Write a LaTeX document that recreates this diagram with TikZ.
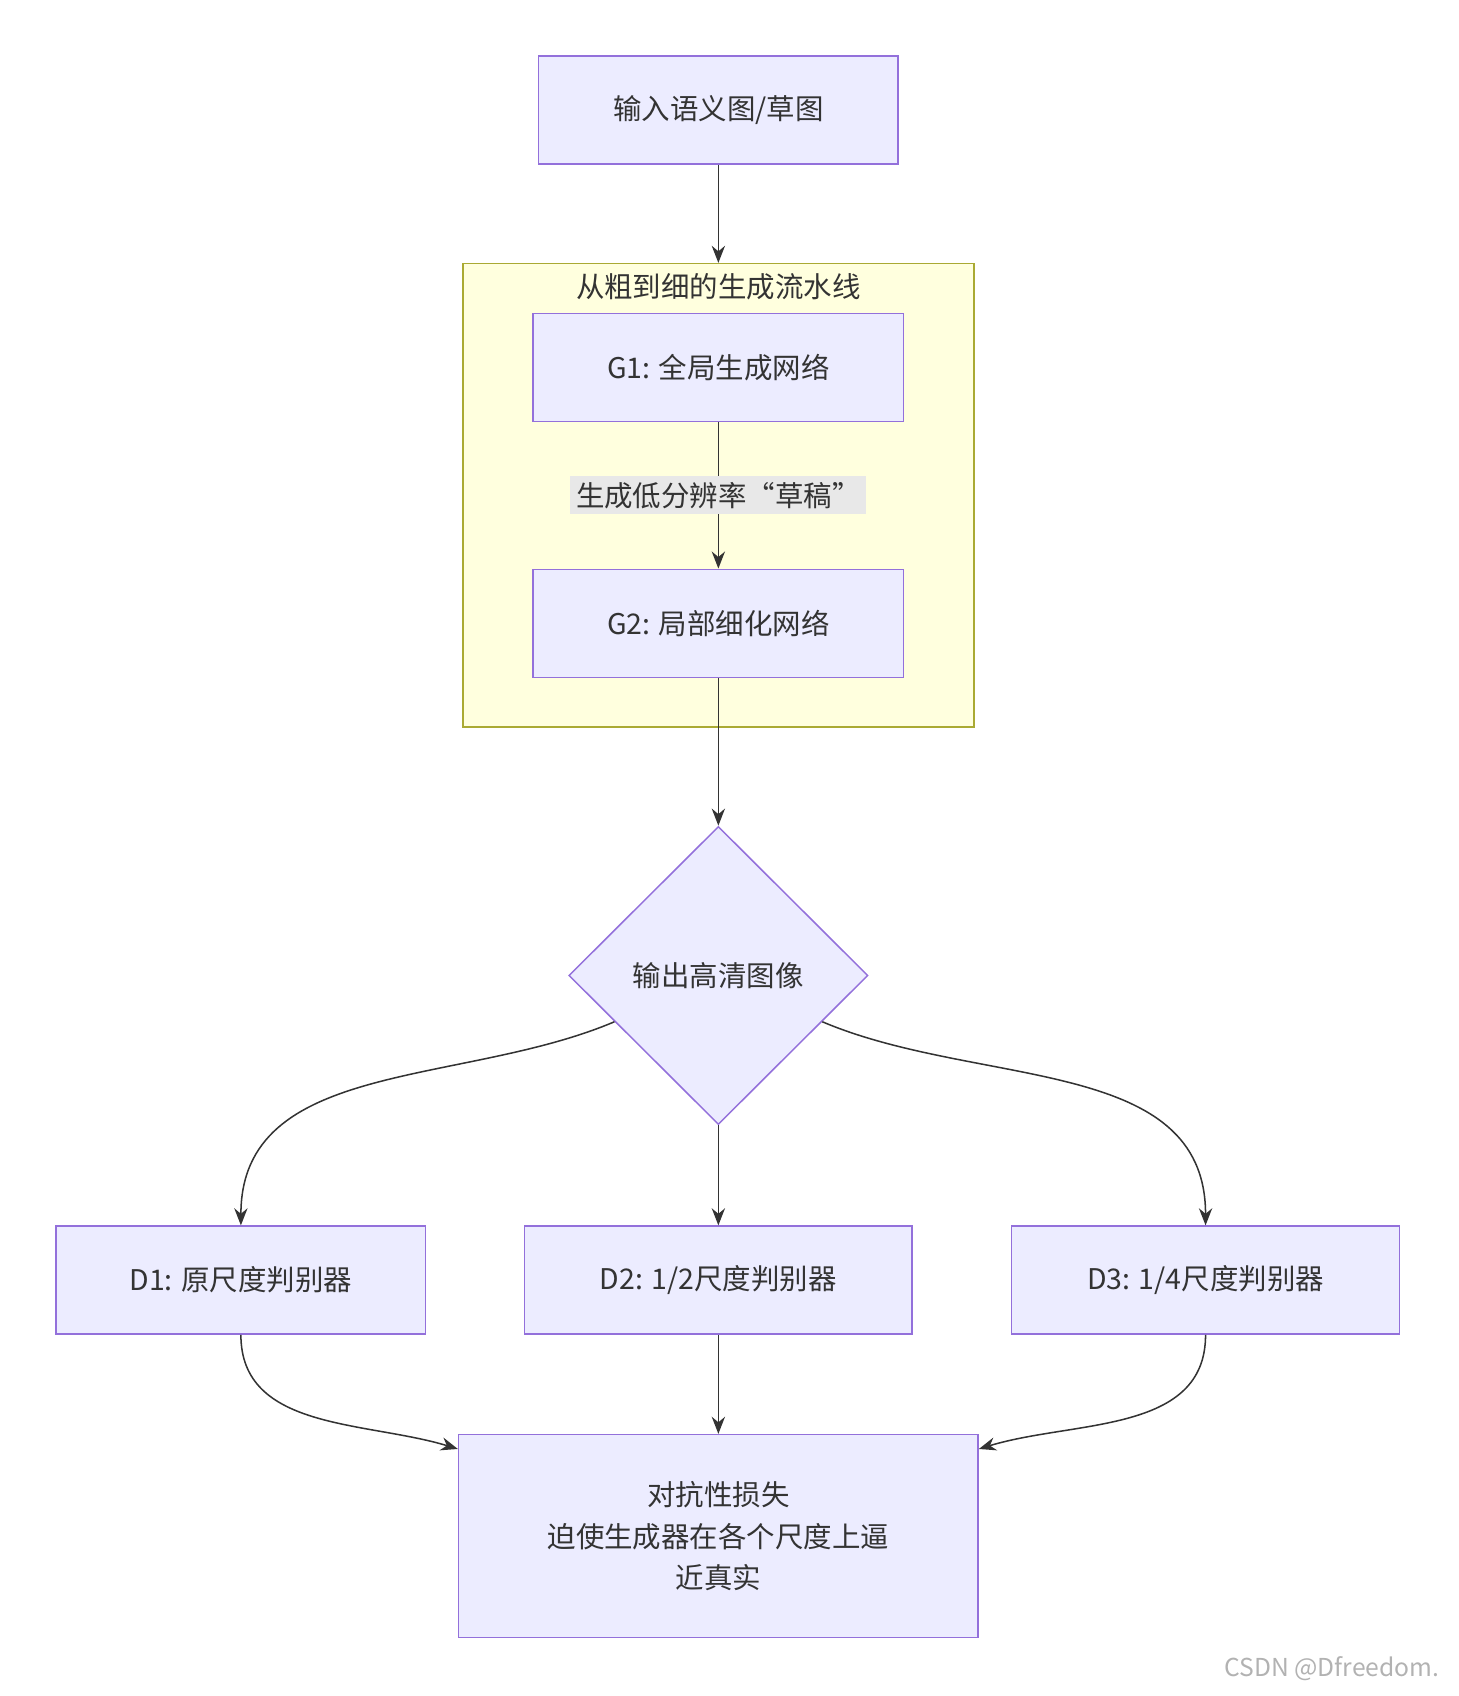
\documentclass[tikz,border=0pt]{standalone}
\usepackage{fontspec}
\setmainfont{Noto Sans CJK SC}
\usetikzlibrary{positioning, shapes.geometric, arrows.meta}
\definecolor{nodefill}{HTML}{ECECFF}
\definecolor{nodeline}{HTML}{9370DB}
\definecolor{groupfill}{HTML}{FFFFDE}
\definecolor{groupline}{HTML}{AAAA33}
\definecolor{edgecol}{HTML}{333333}
\definecolor{labelbg}{HTML}{E8E8E8}
\begin{document}
\begin{tikzpicture}[
    x=0.02cm, y=-0.02cm,
    every node/.style={font=\fontsize{15}{22}\selectfont, text=edgecol},
    box/.style={rectangle, draw=nodeline, fill=nodefill, line width=0.8pt, align=center, minimum height=2cm},
    decision/.style={diamond, draw=nodeline, fill=nodefill, line width=0.8pt, minimum width=5.54cm, minimum height=5.52cm, inner sep=0pt},
    group/.style={rectangle, draw=groupline, fill=groupfill, line width=0.8pt},
    flow/.style={draw=edgecol, line width=0.8pt, -{Stealth[length=9pt, width=7pt]}}
]
\useasboundingbox (0,0) rectangle (1350,1570);

% Subgraph
\node[group, minimum width=9.46cm, minimum height=8.58cm] (pipe) at (665,458.5) {};
\node (pipetitle) at (665,265) {从粗到细的生成流水线};

% Nodes
\node[box, minimum width=6.66cm] (input) at (665,102) {输入语义图/草图};
\node[box, minimum width=6.86cm] (g1) at (665,340) {G1: 全局生成网络};
\node[box, minimum width=6.86cm] (g2) at (665,577) {G2: 局部细化网络};
\node[decision] (output) at (665,903) {输出高清图像};
\node[box, minimum width=6.84cm] (d1) at (223,1185) {D1: 原尺度判别器};
\node[box, minimum width=7.18cm] (d2) at (665,1185) {D2: 1/2尺度判别器};
\node[box, minimum width=7.18cm] (d3) at (1116,1185) {D3: 1/4尺度判别器};
\node[box, minimum width=9.62cm, minimum height=3.76cm] (loss) at (665,1422) {对抗性损失\\迫使生成器在各个尺度上逼\\近真实};

% Edges
\draw[flow] (input) -- (pipe.north);
\draw[flow] (g1) -- node[fill=labelbg, inner sep=3pt] (draftlabel) {生成低分辨率“草稿”} (g2);
\draw[flow] (g2) -- (output);
\draw[flow] (output.204) to[out=203, in=90] (d1.north);
\draw[flow] (output) -- (d2);
\draw[flow] (output.-24) to[out=-23, in=90] (d3.north);
\draw[flow] (d1.south) to[out=-90, in=163] ([yshift=-0.28cm]loss.north west);
\draw[flow] (d2) -- (loss);
\draw[flow] (d3.south) to[out=-90, in=17] ([yshift=-0.28cm]loss.north east);

% Watermark
\node[text=gray!60, font=\fontsize{13}{16}\selectfont] (mark) at (1233,1545) {CSDN @Dfreedom.};
\end{tikzpicture}
\end{document}
